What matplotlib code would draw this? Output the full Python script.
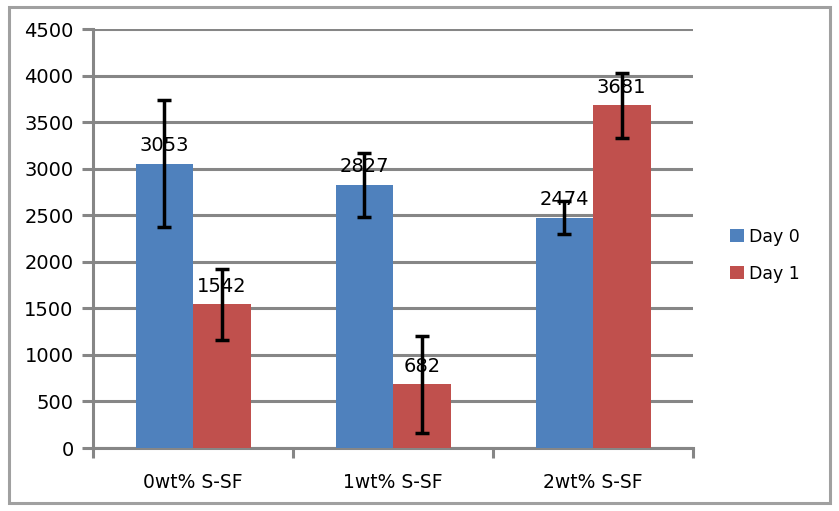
import numpy as np
import matplotlib.pyplot as plt
from matplotlib.patches import Rectangle

categories = ["0wt% S-SF", "1wt% S-SF", "2wt% S-SF"]
day0 = [3053, 2827, 2474]
day1 = [1542, 682, 3681]
day0_err = [680, 345, 175]
day1_err = [385, 525, 350]

blue = "#4F81BD"
red = "#C0504D"
grid_c = "#868686"

fig = plt.figure(figsize=(8.39, 5.11), dpi=100)
ax = fig.add_axes([93/839, 1-448/511, 600/839, 419/511])

x = np.arange(len(categories))
w = 0.2875
ax.bar(x - w/2, day0, w, color=blue, label="Day 0", zorder=3)
ax.bar(x + w/2, day1, w, color=red, label="Day 1", zorder=3)
ax.errorbar(x - w/2, day0, yerr=day0_err, fmt="none", ecolor="black",
            elinewidth=2.5, capsize=5, capthick=2.5, zorder=5)
ax.errorbar(x + w/2, day1, yerr=day1_err, fmt="none", ecolor="black",
            elinewidth=2.5, capsize=5, capthick=2.5, zorder=5)

for xi, v in zip(x - w/2, day0):
    ax.annotate(str(v), (xi, v), xytext=(0, 6), textcoords="offset points",
                ha="center", va="bottom", fontsize=14, zorder=6)
for xi, v in zip(x + w/2, day1):
    ax.annotate(str(v), (xi, v), xytext=(0, 6), textcoords="offset points",
                ha="center", va="bottom", fontsize=14, zorder=6)

ax.set_xlim(-0.5, 2.5)
ax.set_ylim(0, 4500)
ax.set_yticks(range(0, 4501, 500))
ax.yaxis.grid(True, color=grid_c, linewidth=2.2, zorder=0)
ax.set_axisbelow(True)
ax.set_xticks(x)
ax.set_xticklabels(categories, fontsize=13.5)
ax.set_xticks([-0.5, 0.5, 1.5, 2.5], minor=True)
ax.tick_params(axis="x", which="major", length=0, pad=18)
ax.tick_params(axis="x", which="minor", length=7, width=2.2, color=grid_c, direction="out")
ax.tick_params(axis="y", length=8, width=2.2, color=grid_c, labelsize=14, pad=6)
for s in ["top", "right"]:
    ax.spines[s].set_visible(False)
ax.spines["left"].set_color(grid_c)
ax.spines["left"].set_linewidth(2.2)
ax.spines["bottom"].set_color(grid_c)
ax.spines["bottom"].set_linewidth(2.2)

ax.legend(loc="center left", bbox_to_anchor=(1.035, 0.46), frameon=False,
          fontsize=12.5, handlelength=0.8, handleheight=0.8, labelspacing=1.1,
          handletextpad=0.3)

fig.patches.append(Rectangle((9/839, 1-503/511), 821/839, 496/511,
                             transform=fig.transFigure, fill=False,
                             edgecolor="#A0A0A0", linewidth=2.2))

fig.savefig("out.png", dpi=100)
